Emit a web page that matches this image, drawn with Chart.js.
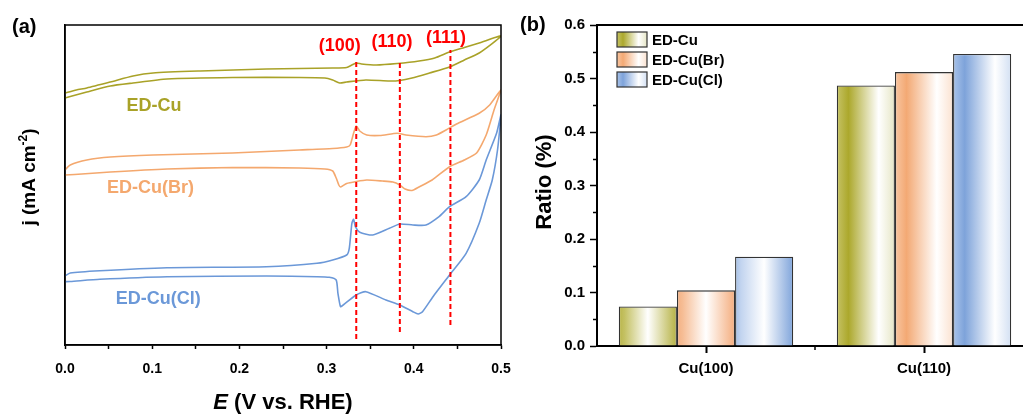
<!DOCTYPE html>
<html lang="en">
<head>
    <meta charset="UTF-8">
    <title>Cu facets: CV and ratio</title>
    <script src="https://cdn.jsdelivr.net/npm/chart.js@4.4.1/dist/chart.umd.min.js"></script>
    <style>
        html, body {
            margin: 0;
            padding: 0;
            background: #fff;
            overflow: hidden;
        }

        .page {
            position: relative;
            width: 1023px;
            height: 414px;
            overflow: hidden;
        }

        #cvChart {
            position: absolute;
            left: 0;
            top: 0;
        }

        #ratioChart {
            position: absolute;
            left: 520px;
            top: 0;
        }
    </style>
</head>
<body>
    <div class="page">
        <canvas id="cvChart" width="520" height="414"></canvas>
        <canvas id="ratioChart" width="515" height="414"></canvas>
    </div>

    <script>
        const FONT = "'Liberation Sans', Arial, sans-serif";

        // ---- (a) cyclic voltammograms, forward scan then reverse scan ----
        const cuE = [0.000, 0.013, 0.025, 0.052, 0.078, 0.101, 0.155, 0.231, 0.307, 0.323, 0.329, 0.334, 0.340, 0.357, 0.381, 0.406, 0.424, 0.441, 0.458, 0.475, 0.500,
                     0.475, 0.458, 0.441, 0.418, 0.398, 0.384, 0.372, 0.345, 0.323, 0.315, 0.307, 0.298, 0.269, 0.192, 0.117, 0.078, 0.052, 0.025, 0.006, 0.000];
        const cuJ = [2.52, 2.55, 2.57, 2.63, 2.69, 2.72, 2.74, 2.76, 2.77, 2.775, 2.80, 2.82, 2.81, 2.80, 2.815, 2.84, 2.87, 2.93, 2.975, 3.02, 3.09,
                     2.92, 2.85, 2.78, 2.72, 2.67, 2.645, 2.64, 2.65, 2.63, 2.62, 2.65, 2.67, 2.675, 2.675, 2.66, 2.62, 2.59, 2.53, 2.485, 2.47];

        const brE = [0.000, 0.006, 0.025, 0.052, 0.101, 0.192, 0.269, 0.307, 0.323, 0.327, 0.331, 0.334, 0.338, 0.346, 0.361, 0.381, 0.391, 0.414, 0.426, 0.437, 0.449, 0.475, 0.487, 0.500,
                     0.492, 0.483, 0.472, 0.458, 0.441, 0.421, 0.406, 0.398, 0.390, 0.384, 0.376, 0.364, 0.346, 0.334, 0.323, 0.316, 0.314, 0.311, 0.307, 0.298, 0.269, 0.192, 0.117, 0.052, 0.011, 0.000];
        const brJ = [1.75, 1.80, 1.85, 1.88, 1.90, 1.92, 1.95, 1.965, 1.98, 2.00, 2.12, 2.19, 2.14, 2.10, 2.095, 2.117, 2.10, 2.083, 2.10, 2.15, 2.21, 2.317, 2.40, 2.55,
                     2.35, 2.10, 1.92, 1.85, 1.783, 1.65, 1.58, 1.545, 1.56, 1.60, 1.63, 1.64, 1.65, 1.635, 1.615, 1.58, 1.60, 1.67, 1.74, 1.76, 1.77, 1.775, 1.76, 1.73, 1.705, 1.70];

        const clE = [0.000, 0.006, 0.040, 0.117, 0.231, 0.289, 0.307, 0.323, 0.326, 0.329, 0.331, 0.333, 0.338, 0.353, 0.372, 0.384, 0.399, 0.414, 0.429, 0.441, 0.460, 0.475, 0.483, 0.495, 0.500,
                     0.496, 0.490, 0.483, 0.475, 0.460, 0.441, 0.422, 0.410, 0.405, 0.399, 0.384, 0.368, 0.345, 0.334, 0.319, 0.316, 0.313, 0.311, 0.303, 0.289, 0.231, 0.117, 0.040, 0.006, 0.000];
        const clJ = [0.69, 0.72, 0.743, 0.773, 0.783, 0.817, 0.85, 0.90, 0.967, 1.217, 1.257, 1.183, 1.127, 1.10, 1.167, 1.21, 1.20, 1.20, 1.283, 1.383, 1.483, 1.65, 1.85, 2.12, 2.30,
                     1.95, 1.65, 1.45, 1.217, 0.917, 0.70, 0.483, 0.333, 0.31, 0.333, 0.40, 0.45, 0.533, 0.50, 0.40, 0.383, 0.517, 0.65, 0.677, 0.683, 0.69, 0.683, 0.657, 0.635, 0.633];

        const cvTicks = [0.0, 0.1, 0.2, 0.3, 0.4, 0.5];

        // facet markers: potential, dashed-line extent and label anchor
        const facetNames = ['(100)', '(110)', '(111)'];
        const facetE = [0.334, 0.384, 0.442];
        const facetTop = [2.83, 2.82, 2.95];
        const facetBottom = [0.06, 0.13, 0.20];
        const facetLabelE = [0.315, 0.375, 0.437];
        const facetLabelJ = [2.99, 3.033, 3.067];

        const sampleNames = ['ED-Cu', 'ED-Cu(Br)', 'ED-Cu(Cl)'];
        const sampleLabelE = [0.102, 0.098, 0.107];
        const sampleLabelJ = [2.39, 1.567, 0.46];
        const lineColors = ['#a9a228', '#f4a86e', '#6b98d8'];

        // ---- (b) facet ratio ----
        const facetCategories = ['Cu(100)', 'Cu(110)'];
        const cuRatio = [0.074, 0.487];
        const brRatio = [0.104, 0.512];
        const clRatio = [0.167, 0.546];
        const ratioTicks = [0.0, 0.1, 0.2, 0.3, 0.4, 0.5, 0.6];

        const toPoints = (es, js) => es.map((e, i) => ({ x: e, y: js[i] }));

        function drawRuns(ctx, runs, x, y) {
            let total = 0;
            runs.forEach(r => { ctx.font = r.font; total += ctx.measureText(r.text).width; });
            let cx = x - total / 2;
            runs.forEach(r => {
                ctx.font = r.font;
                ctx.fillText(r.text, cx, y + (r.dy || 0));
                cx += ctx.measureText(r.text).width;
            });
        }

        const cvDatasets = [
            [cuE, cuJ], [brE, brJ], [clE, clJ]
        ].map(([es, js], i) => ({
            label: sampleNames[i],
            data: toPoints(es, js),
            borderColor: lineColors[i],
            borderWidth: 1.6,
            tension: 0.2,
            pointRadius: 0,
            fill: false,
            order: 1
        }));

        facetE.forEach((e, i) => {
            cvDatasets.push({
                label: facetNames[i],
                data: [{ x: e, y: facetBottom[i] }, { x: e, y: facetTop[i] }],
                borderColor: '#ff0000',
                borderWidth: 2,
                borderDash: [5, 3],
                pointRadius: 0,
                order: 0
            });
        });

        const cvDecor = {
            id: 'cvDecor',
            afterDraw(chart) {
                const { ctx, chartArea: a, scales } = chart;
                ctx.save();
                // frame
                ctx.strokeStyle = '#000';
                ctx.lineWidth = 1.5;
                ctx.strokeRect(a.left, a.top, a.right - a.left, a.bottom - a.top);

                ctx.textAlign = 'left';
                ctx.textBaseline = 'middle';
                ctx.fillStyle = '#000';
                ctx.font = `bold 20px ${FONT}`;
                ctx.fillText('(a)', 12, 27);

                // facet labels
                ctx.fillStyle = '#ff0000';
                ctx.textAlign = 'center';
                ctx.font = `bold 18px ${FONT}`;
                facetNames.forEach((t, i) => {
                    ctx.fillText(t, scales.x.getPixelForValue(facetLabelE[i]), scales.y.getPixelForValue(facetLabelJ[i]));
                });

                // curve labels
                ctx.font = `bold 18px ${FONT}`;
                sampleNames.forEach((t, i) => {
                    ctx.fillStyle = lineColors[i];
                    ctx.fillText(t, scales.x.getPixelForValue(sampleLabelE[i]), scales.y.getPixelForValue(sampleLabelJ[i]));
                });

                // axis titles
                ctx.fillStyle = '#000';
                ctx.textAlign = 'left';
                ctx.textBaseline = 'alphabetic';
                drawRuns(ctx, [
                    { text: 'E', font: `italic bold 22px ${FONT}` },
                    { text: ' (V vs. RHE)', font: `bold 22px ${FONT}` }
                ], (a.left + a.right) / 2, 409);

                ctx.translate(35, 177);
                ctx.rotate(-Math.PI / 2);
                drawRuns(ctx, [
                    { text: 'j', font: `bold 19px ${FONT}` },
                    { text: ' (mA cm', font: `bold 19px ${FONT}` },
                    { text: '-2', font: `bold 12px ${FONT}`, dy: -8 },
                    { text: ')', font: `bold 19px ${FONT}` }
                ], 0, 0);
                ctx.restore();
            }
        };

        new Chart(document.getElementById('cvChart'), {
            type: 'line',
            data: { datasets: cvDatasets },
            options: {
                responsive: false,
                animation: false,
                devicePixelRatio: 1,
                layout: { padding: { top: 25, right: 19, left: 0, bottom: 0 } },
                plugins: { legend: { display: false }, tooltip: { enabled: false } },
                scales: {
                    x: {
                        type: 'linear',
                        min: 0,
                        max: 0.5,
                        afterFit: s => {
                            s.height = 69;
                            s.paddingLeft = 0;
                            s.paddingRight = 0;
                        },
                        ticks: {
                            stepSize: 0.05,
                            autoSkip: false,
                            maxRotation: 0,
                            padding: 12,
                            color: '#000',
                            font: { family: FONT, size: 14, weight: 'bold' },
                            callback: v => {
                                const t = cvTicks.find(k => Math.abs(k - v) < 1e-6);
                                return t === undefined ? '' : t.toFixed(1);
                            }
                        },
                        grid: { drawOnChartArea: false, tickLength: 4, color: '#000', tickWidth: 1.5 },
                        border: { display: true, color: '#000', width: 1.5 }
                    },
                    y: {
                        type: 'linear',
                        min: 0,
                        max: 3.2,
                        afterFit: s => { s.width = 65; },
                        ticks: { display: false },
                        grid: { display: false },
                        border: { display: true, color: '#000', width: 1.5 }
                    }
                }
            },
            plugins: [cvDecor]
        });

        // ---- (b) bar chart ----
        const barColors = [
            ['#c6c366', '#aca82c', '#ffffff', '#e6e6c6'],
            ['#f8c6a2', '#f3a974', '#ffffff', '#fbe2d0'],
            ['#a9c3e9', '#7ea3da', '#ffffff', '#d3e0f3']
        ];
        // gradient stop offsets for short and tall bars
        const barStops = [
            [0, 0.1, 0.5, 1],
            [0, 0.2, 0.72, 1]
        ];
        const shortBarColors = [
            ['#b9b54a', '#c4c163', '#ffffff', '#b5b142'],
            ['#f4b183', '#f6bd95', '#ffffff', '#f4ad7e'],
            ['#a4bfe6', '#c2d4ef', '#ffffff', '#80a5db']
        ];

        function barFill(ctx) {
            const chart = ctx.chart;
            const xs = chart.scales.x;
            const ds = ctx.datasetIndex;
            if (ctx.type !== 'data' || !xs || !chart.chartArea) return barColors[ds][1];
            const catW = xs.width / facetCategories.length;
            const groupW = catW * 0.8;
            const barW = groupW / 3;
            const left = xs.getPixelForValue(ctx.dataIndex) - groupW / 2 + ds * barW;
            const g = chart.ctx.createLinearGradient(left, 0, left + barW, 0);
            const cols = ctx.dataIndex === 0 ? shortBarColors[ds] : barColors[ds];
            const stops = ctx.dataIndex === 0 ? barStops[0] : barStops[1];
            stops.forEach((s, i) => g.addColorStop(s, cols[i]));
            return g;
        }

        const ratioDecor = {
            id: 'ratioDecor',
            afterDraw(chart) {
                const { ctx, chartArea: a, scales } = chart;
                ctx.save();
                ctx.strokeStyle = '#000';
                ctx.lineWidth = 2;
                // top frame line runs off the right edge
                ctx.beginPath();
                ctx.moveTo(a.left - 1, a.top);
                ctx.lineTo(chart.width, a.top);
                ctx.stroke();

                // minor ticks
                ctx.lineWidth = 1.5;
                ctx.beginPath();
                for (let v = 0.05; v < 0.6; v += 0.1) {
                    const y = Math.round(scales.y.getPixelForValue(v)) + 0.5;
                    ctx.moveTo(a.left - 4, y);
                    ctx.lineTo(a.left, y);
                }
                const mx = scales.x.getPixelForValue(0.5);
                ctx.moveTo(mx, a.bottom);
                ctx.lineTo(mx, a.bottom + 4);
                ctx.stroke();

                // legend
                ctx.textAlign = 'left';
                ctx.textBaseline = 'middle';
                ctx.font = `bold 15px ${FONT}`;
                sampleNames.forEach((t, i) => {
                    const bx = 97, by = 32 + i * 20, bw = 30, bh = 15;
                    const g = ctx.createLinearGradient(bx, 0, bx + bw, 0);
                    barStops[1].forEach((s, k) => g.addColorStop(s, barColors[i][k]));
                    ctx.fillStyle = g;
                    ctx.fillRect(bx, by, bw, bh);
                    ctx.strokeStyle = '#333';
                    ctx.lineWidth = 1.2;
                    ctx.strokeRect(bx, by, bw, bh);
                    ctx.fillStyle = '#000';
                    ctx.fillText(t, bx + bw + 5, by + bh / 2 + 1);
                });

                ctx.font = `bold 20px ${FONT}`;
                ctx.fillText('(b)', 0, 25);

                ctx.textAlign = 'center';
                ctx.textBaseline = 'middle';
                ctx.translate(25, 182);
                ctx.rotate(-Math.PI / 2);
                ctx.font = `bold 22px ${FONT}`;
                ctx.fillText('Ratio (%)', 0, 0);
                ctx.restore();
            }
        };

        new Chart(document.getElementById('ratioChart'), {
            type: 'bar',
            data: {
                labels: facetCategories,
                datasets: [cuRatio, brRatio, clRatio].map((vals, i) => ({
                    label: sampleNames[i],
                    data: vals,
                    backgroundColor: barFill,
                    borderColor: '#333',
                    borderWidth: 1.3,
                    categoryPercentage: 0.8,
                    barPercentage: 1.0
                }))
            },
            options: {
                responsive: false,
                animation: false,
                devicePixelRatio: 1,
                layout: { padding: { top: 25, right: 2, left: 0, bottom: 0 } },
                plugins: { legend: { display: false }, tooltip: { enabled: false } },
                scales: {
                    x: {
                        offset: true,
                        afterFit: s => { s.height = 68; },
                        ticks: {
                            padding: 7,
                            color: '#000',
                            font: { family: FONT, size: 15, weight: 'bold' }
                        },
                        grid: { offset: false, drawOnChartArea: false, tickLength: 7, color: '#000', tickWidth: 2 },
                        border: { display: true, color: '#000', width: 2 }
                    },
                    y: {
                        min: 0,
                        max: 0.6,
                        afterFit: s => { s.width = 77; },
                        ticks: {
                            stepSize: 0.1,
                            padding: 5,
                            color: '#000',
                            font: { family: FONT, size: 15, weight: 'bold' },
                            callback: v => {
                                const t = ratioTicks.find(k => Math.abs(k - v) < 1e-6);
                                return t === undefined ? '' : t.toFixed(1);
                            }
                        },
                        grid: { drawOnChartArea: false, tickLength: 7, color: '#000', tickWidth: 1.5 },
                        border: { display: true, color: '#000', width: 2 }
                    }
                }
            },
            plugins: [ratioDecor]
        });
    </script>
</body>
</html>
